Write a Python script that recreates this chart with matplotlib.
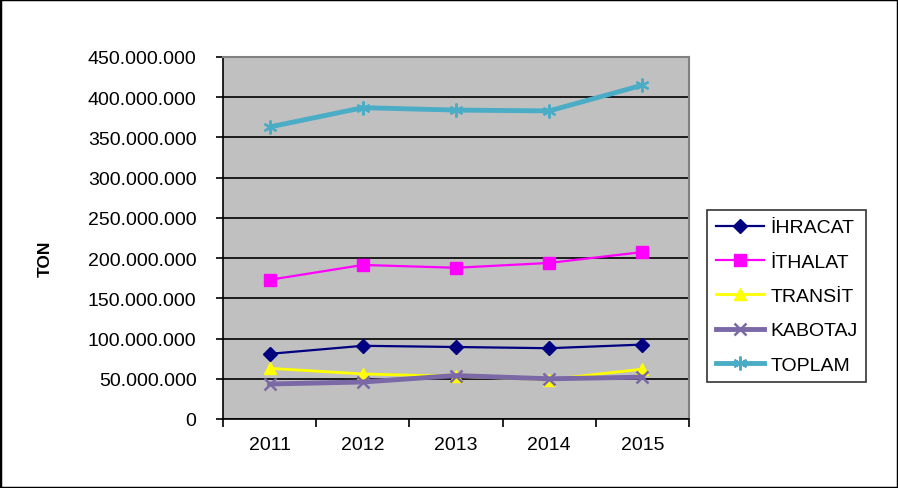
import matplotlib
matplotlib.use("Agg")
import matplotlib.pyplot as plt
from matplotlib.ticker import FuncFormatter, FixedLocator
from matplotlib.patches import Rectangle

years = ["2011", "2012", "2013", "2014", "2015"]
ihracat = [81e6, 91e6, 89.5e6, 88e6, 92.5e6]
ithalat = [173e6, 191.5e6, 188e6, 194e6, 207.5e6]
transit = [63e6, 56e6, 53e6, 49e6, 62e6]
kabotaj = [43.5e6, 46e6, 54e6, 50e6, 52e6]
toplam = [363e6, 387e6, 384e6, 383e6, 415e6]

plt.rcParams['font.family'] = ['Liberation Sans', 'DejaVu Sans']

fig = plt.figure(figsize=(8.98, 4.89), dpi=100)
fig.patch.set_facecolor('white')
fig.patches.append(Rectangle((0, 0), 1, 1, transform=fig.transFigure,
                             fill=False, edgecolor='black', linewidth=2.5))

ax = fig.add_axes([223/898, 69/489, 466/898, 362/489])
ax.set_facecolor('#C0C0C0')
x = list(range(len(years)))

ax.plot(x, ihracat, color='#000080', lw=1.6, marker='D', ms=7, label='İHRACAT')
ax.plot(x, ithalat, color='#FF00FF', lw=1.6, marker='s', ms=8, label='İTHALAT')
ax.plot(x, transit, color='#FFFF00', lw=2, marker='^', ms=8, label='TRANSİT')
ax.plot(x, kabotaj, color='#7B68A6', lw=3.5, marker='x', ms=9, mew=1.8, label='KABOTAJ')
ax.plot(x, toplam, color='#4BACC6', lw=3.5, marker=(6, 2, 0), ms=10, mew=1.6, label='TOPLAM')

ax.set_xlim(-0.5, 4.5)
ax.set_ylim(0, 450e6)
ax.set_yticks([i * 50e6 for i in range(10)])
ax.yaxis.set_major_formatter(FuncFormatter(lambda v, p: f"{int(round(v)):,}".replace(",", ".")))
ax.grid(axis='y', color='black', lw=1.2)
ax.set_axisbelow(True)

ax.set_xticks(x)
ax.set_xticklabels(years)
ax.xaxis.set_minor_locator(FixedLocator([i - 0.5 for i in range(6)]))
ax.tick_params(axis='x', which='major', length=0, pad=12, labelsize=14)
ax.tick_params(axis='x', which='minor', length=6, width=1.2, direction='out')
ax.tick_params(axis='y', length=5, width=1.2, direction='out', labelsize=14, pad=14)

for s in ['top', 'right']:
    ax.spines[s].set_color('#808080')
    ax.spines[s].set_linewidth(1.5)
for s in ['left', 'bottom']:
    ax.spines[s].set_color('black')
    ax.spines[s].set_linewidth(1.2)

fig.text(45/898, 1 - 259/489, 'TON', rotation=90, fontsize=12.5, fontweight='bold',
         ha='center', va='center')

leg = fig.legend(loc='upper left', bbox_to_anchor=(707/898, 1 - 211/489),
                 frameon=True, fancybox=False, edgecolor='black', fontsize=14,
                 handlelength=2.5, labelspacing=0.86, borderpad=0.45,
                 handletextpad=0.3, borderaxespad=0)
leg.get_frame().set_linewidth(1.2)

fig.savefig('out.png', dpi=100)
